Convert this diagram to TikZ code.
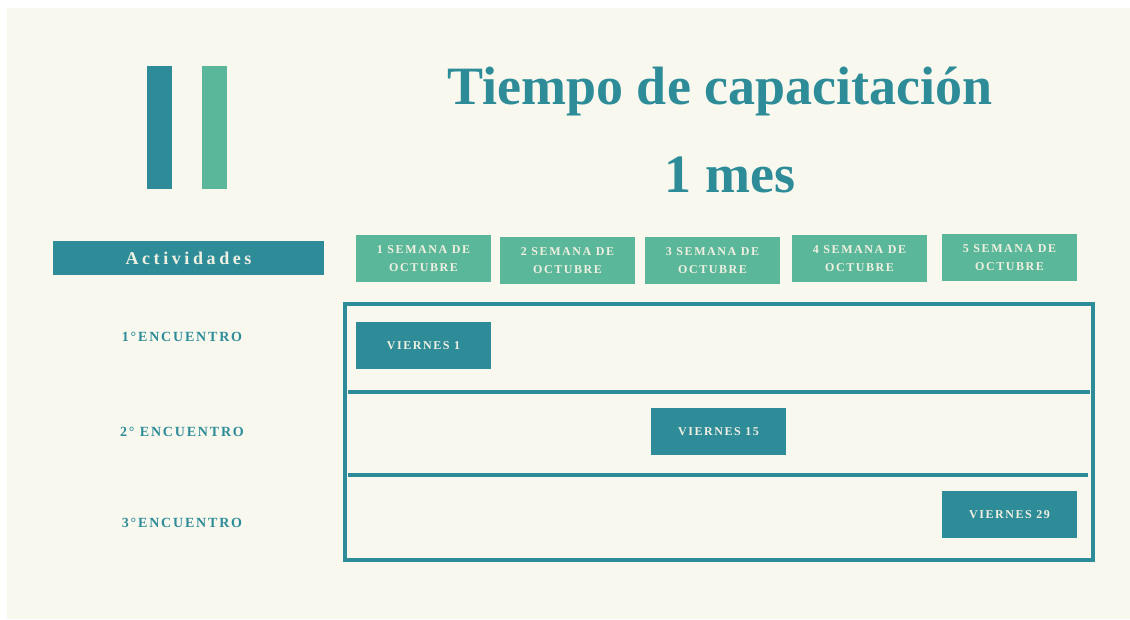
\documentclass[tikz,border=0pt]{standalone}
\usepackage{fontspec}
\setmainfont{Liberation Serif}
\newfontfamily\spacedfont[LetterSpace=20]{Liberation Serif}
\newfontfamily\trackfont[LetterSpace=13]{Liberation Serif}
\definecolor{tealc}{HTML}{2E8C99}
\definecolor{greenc}{HTML}{5BB799}
\definecolor{creamc}{HTML}{F8F8EE}
\definecolor{textc}{HTML}{F0F0E2}

\begin{document}
\begin{tikzpicture}[x=1pt,y=-1pt,
  boxed/.style={minimum width=135pt, minimum height=47pt, inner sep=0pt, align=center, text=textc},
  week/.style={boxed, fill=greenc, font=\trackfont\bfseries\fontsize{12}{18}\selectfont},
  day/.style={boxed, fill=tealc, font=\trackfont\bfseries\fontsize{12}{14}\selectfont},
  meet/.style={text=tealc, font=\trackfont\bfseries\fontsize{14}{16}\selectfont}]
  % background
  \fill[white] (0,0) rectangle (1130,619);
  \fill[creamc] (7,8) rectangle (1130,619);
  \fill[tealc] (147,66) rectangle (172,189);
  \fill[greenc] (202,66) rectangle (227,189);
  % title
  \node[anchor=base, text=tealc, font=\bfseries\fontsize{54}{60}\selectfont] (title) at (720,104) {Tiempo de capacitación};
  \node[anchor=base, text=tealc, font=\bfseries\fontsize{54}{60}\selectfont] (month) at (730,192) {1 mes};
  % header
  \node[fill=tealc, text=textc, minimum width=271pt, minimum height=34pt, inner sep=0pt,
        font=\spacedfont\bfseries\fontsize{18}{20}\selectfont] (act) at (188.5,258) {Actividades};
  \node[week] (w1) at (423.5,258.5) {1 SEMANA DE\\OCTUBRE};
  \node[week] (w2) at (567.5,260.5) {2 SEMANA DE\\OCTUBRE};
  \node[week] (w3) at (712.5,260.5) {3 SEMANA DE\\OCTUBRE};
  \node[week] (w4) at (859.5,258.5) {4 SEMANA DE\\OCTUBRE};
  \node[week] (w5) at (1009.5,257.5) {5 SEMANA DE\\OCTUBRE};
  % grid
  \draw[tealc, line width=3.5pt] (345,304) rectangle (1093,560);
  \draw[tealc, line width=4pt] (348,392) -- (1090,392);
  \draw[tealc, line width=4pt] (348,475) -- (1088,475);
  % rows
  \node[meet] (e1) at (182,337) {1°ENCUENTRO};
  \node[meet] (e2) at (182,432) {2° ENCUENTRO};
  \node[meet] (e3) at (182,523) {3°ENCUENTRO};
  \node[day] (d1) at (423.5,345.5) {VIERNES 1};
  \node[day] (d2) at (718.5,431.5) {VIERNES 15};
  \node[day] (d3) at (1009.5,514.5) {VIERNES 29};
\end{tikzpicture}
\end{document}
